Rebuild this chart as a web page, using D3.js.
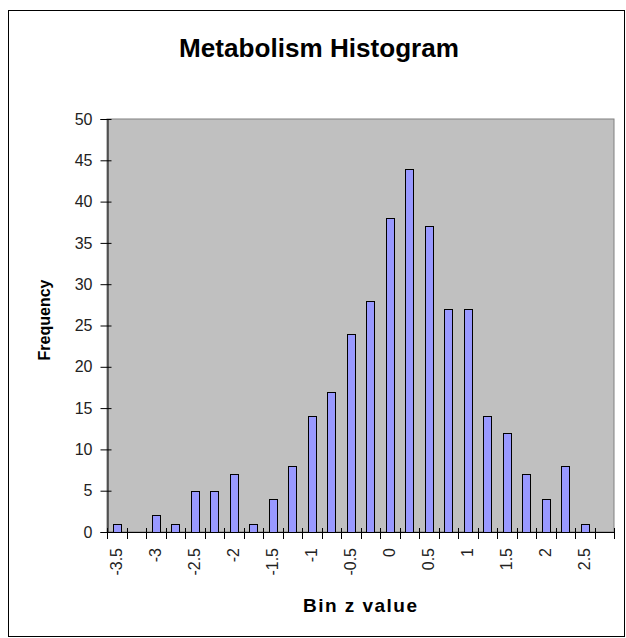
<!DOCTYPE html>
<html>
<head>
<meta charset="utf-8">
<script src="https://cdn.jsdelivr.net/npm/d3@7"></script>
<style>
  body { margin: 0; background: #fff; }
  text { font-family: "Liberation Sans", Arial, sans-serif; }
</style>
</head>
<body>
<svg id="chart" width="626" height="638"></svg>
<script>
// bins (z value, step 0.25) and counts
const bins = [-3.5, -3.25, -3, -2.75, -2.5, -2.25, -2, -1.75, -1.5, -1.25, -1, -0.75,
  -0.5, -0.25, 0, 0.25, 0.5, 0.75, 1, 1.25, 1.5, 1.75, 2, 2.25, 2.5, 2.75];
const freq = [1, 0, 2, 1, 5, 5, 7, 1, 4, 8, 14, 17, 24, 28, 38, 44, 37, 27, 27, 14, 12, 7, 4, 8, 1, 0];
const xLabels = [-3.5, -3, -2.5, -2, -1.5, -1, -0.5, 0, 0.5, 1, 1.5, 2, 2.5];
const yTicks = [0, 5, 10, 15, 20, 25, 30, 35, 40, 45, 50];

const svg = d3.select("#chart");
const plot = { left: 107, right: 614, top: 119, bottom: 532 };

// outer chart frame
svg.append("rect")
  .attr("x", 8.5).attr("y", 10.5)
  .attr("width", 616).attr("height", 626)
  .attr("fill", "#fff").attr("stroke", "#000").attr("stroke-width", 1);

svg.append("text")
  .attr("x", 319).attr("y", 57)
  .attr("text-anchor", "middle")
  .attr("font-size", 25).attr("font-weight", "bold")
  .attr("textLength", 280).attr("lengthAdjust", "spacingAndGlyphs")
  .text("Metabolism Histogram");

const x = d3.scaleBand()
  .domain(bins)
  .range([plot.left, plot.right])
  .paddingInner(0).paddingOuter(0);

const y = d3.scaleLinear().domain([0, 50]).range([plot.bottom, plot.top]);

// plot area
svg.append("rect")
  .attr("x", plot.left).attr("y", plot.top)
  .attr("width", plot.right - plot.left).attr("height", plot.bottom - plot.top)
  .attr("fill", "#c0c0c0").attr("stroke", "#808080").attr("stroke-width", 1);

// bars (gap width 150%)
const bw = x.bandwidth() / 2.5;
svg.append("g")
  .selectAll("rect")
  .data(bins.map((b, i) => ({ bin: b, n: freq[i] })).filter(d => d.n > 0))
  .enter()
  .append("rect")
  .attr("x", d => Math.round(x(d.bin) + (x.bandwidth() - bw) / 2) + 0.5)
  .attr("y", d => Math.round(y(d.n)) + 0.5)
  .attr("width", Math.round(bw))
  .attr("height", d => Math.round(y(0)) - Math.round(y(d.n)))
  .attr("fill", "#9999ff")
  .attr("stroke", "#000")
  .attr("stroke-width", 1);

// y axis
const yAxis = svg.append("g")
  .attr("transform", "translate(" + (plot.left + 0.5) + ",0)")
  .call(d3.axisLeft(y).tickValues(yTicks).tickSize(7).tickPadding(8));
yAxis.select(".domain").attr("stroke", "#000");
yAxis.selectAll(".tick line").attr("x2", 4).attr("x1", -7).attr("stroke", "#000");
yAxis.selectAll("text").attr("font-size", 16).attr("fill", "#222")
  .attr("x", -15)
  .attr("font-family", "'Liberation Sans', Arial, sans-serif");

// x axis: boundary ticks between bins
const bounds = bins.map(b => x(b)).concat([plot.right]);
const xg = svg.append("g");
xg.append("line")
  .attr("x1", plot.left).attr("x2", plot.right)
  .attr("y1", plot.bottom + 0.5).attr("y2", plot.bottom + 0.5)
  .attr("stroke", "#000");
xg.selectAll("line.tk")
  .data(bounds)
  .enter()
  .append("line")
  .attr("class", "tk")
  .attr("x1", d => Math.round(d) + 0.5).attr("x2", d => Math.round(d) + 0.5)
  .attr("y1", plot.bottom - 4).attr("y2", plot.bottom + 7)
  .attr("stroke", "#000");

// x labels, rotated
const xAxis = svg.append("g")
  .attr("transform", "translate(0," + plot.bottom + ")")
  .call(d3.axisBottom(x).tickValues(xLabels).tickSize(0).tickFormat(d => String(d)));
xAxis.select(".domain").remove();
xAxis.selectAll("text")
  .attr("font-size", 16).attr("fill", "#222")
  .attr("font-family", "'Liberation Sans', Arial, sans-serif")
  .attr("transform", "rotate(-90)")
  .attr("x", -16).attr("y", 0).attr("dy", "0.35em")
  .style("text-anchor", "end");

// axis titles
svg.append("text")
  .attr("transform", "translate(50,320) rotate(-90)")
  .attr("text-anchor", "middle")
  .attr("font-size", 16).attr("font-weight", "bold")
  .text("Frequency");

svg.append("text")
  .attr("x", 360).attr("y", 612)
  .attr("text-anchor", "middle")
  .attr("font-size", 19).attr("font-weight", "bold")
  .attr("textLength", 114).attr("lengthAdjust", "spacing")
  .text("Bin z value");
</script>
</body>
</html>
